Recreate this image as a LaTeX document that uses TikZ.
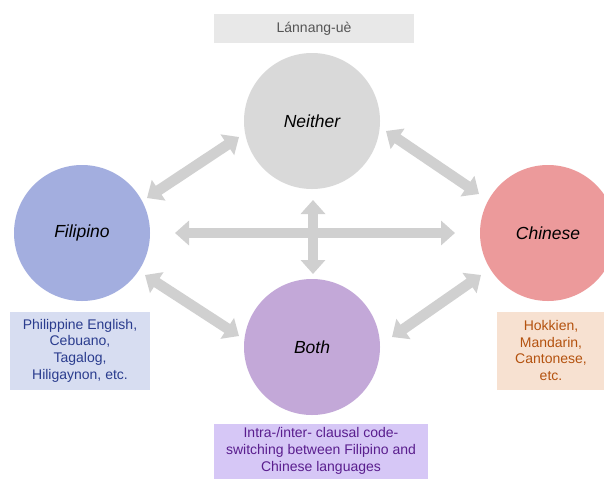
\documentclass[tikz,border=0pt]{standalone}
\usepackage{fontspec}
\setmainfont{Liberation Sans}
\usetikzlibrary{arrows.meta}
\definecolor{cNeither}{HTML}{D9D9D9}
\definecolor{cFil}{HTML}{A3AEDF}
\definecolor{cChi}{HTML}{EC9A9B}
\definecolor{cBoth}{HTML}{C3A8D8}
\definecolor{cArrow}{HTML}{D0D0D0}
\definecolor{bTop}{HTML}{E8E8E8}
\definecolor{tTop}{HTML}{555555}
\definecolor{bFil}{HTML}{D7DDF1}
\definecolor{tFil}{HTML}{2A3C8E}
\definecolor{bChi}{HTML}{F7E1D1}
\definecolor{tChi}{HTML}{B4520F}
\definecolor{bBoth}{HTML}{D6C7F6}
\definecolor{tBoth}{HTML}{5A1E8E}
\tikzset{
  lang/.style={circle, minimum size=136pt, inner sep=0pt, font=\fontsize{17.5}{19}\selectfont\itshape},
  infobox/.style={inner sep=0pt, align=center, font=\fontsize{14}{16.7}\selectfont},
  biarrow/.style={draw=cArrow, line width=10.5pt,
    {Triangle[width=24pt,length=14pt]}-{Triangle[width=24pt,length=14pt]}}
}
\begin{document}
\begin{tikzpicture}[x=1pt,y=-1pt]
\clip (0,0) rectangle (604,480);
\useasboundingbox (0,0) rectangle (604,480);
\fill[white] (0,0) rectangle (604,480);
% circles
\node[lang, fill=cNeither] (neither) at (312,121) {Neither};
\node[lang, fill=cFil] (filipino) at (82,233) {Filipino};
\node[lang, fill=cChi] (chinese) at (548,233) {Chinese};
\node[lang, fill=cBoth] (both) at (312,347) {Both};
% boxes
\node[infobox, fill=bTop, text=tTop, minimum width=200pt, minimum height=29pt] (top) at (314,28.5) {Lánnang-uè};
\node[infobox, fill=bFil, text=tFil, minimum width=140pt, minimum height=78pt] (filbox) at (80,350.5) {Philippine English,\\Cebuano,\\Tagalog,\\Hiligaynon, etc.};
\node[infobox, fill=bChi, text=tChi, minimum width=108pt, minimum height=78pt] (chibox) at (551,350.5) {Hokkien,\\Mandarin,\\Cantonese,\\etc.};
\node[infobox, fill=bBoth, text=tBoth, minimum width=214pt, minimum height=55pt] (bothbox) at (321,451) {Intra-/inter- clausal code-\\switching between Filipino and\\Chinese languages};
% arrow end points
\coordinate (hL) at (175,233);
\coordinate (hR) at (455,233);
\coordinate (vT) at (313,200);
\coordinate (vB) at (313,274);
\coordinate (nfA) at (147,198);
\coordinate (nfB) at (239,137);
\coordinate (ncA) at (386,131);
\coordinate (ncB) at (479,194);
\coordinate (fbA) at (145,275);
\coordinate (fbB) at (239,336);
\coordinate (cbA) at (481,275);
\coordinate (cbB) at (392,337);
\draw[biarrow] (hL) -- (hR);
\draw[biarrow] (vT) -- (vB);
\draw[biarrow] (nfA) -- (nfB);
\draw[biarrow] (ncA) -- (ncB);
\draw[biarrow] (fbA) -- (fbB);
\draw[biarrow] (cbA) -- (cbB);
\end{tikzpicture}
\end{document}
